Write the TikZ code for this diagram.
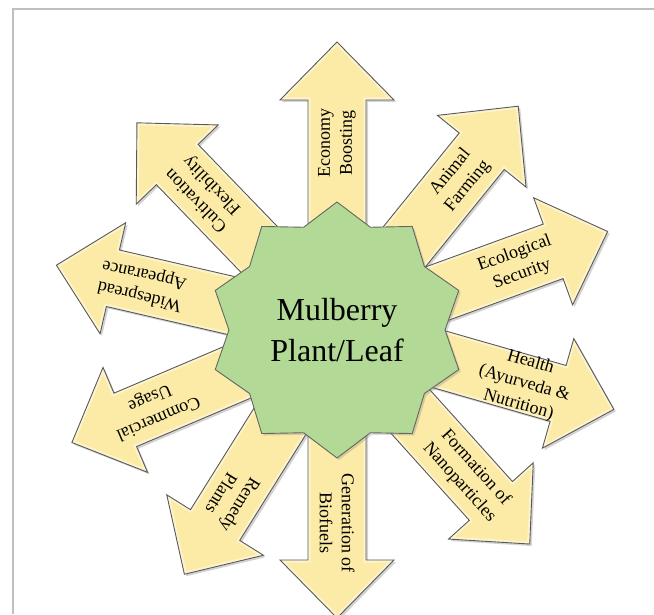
\documentclass[tikz,border=0pt]{standalone}
\usepackage{fontspec}
\setmainfont{Liberation Serif}
\usetikzlibrary{shapes.geometric,shadows}

\definecolor{arrowfill}{RGB}{252,235,166}
\definecolor{starfill}{RGB}{178,218,150}

% one arrow, pointing along +x, starting at the centre
\def\arrowpath{(0,-29) -- (230,-29) -- (230,-57) -- (288,0) -- (230,57) -- (230,29) -- (0,29) -- cycle}

\begin{document}
\begin{tikzpicture}[
    x=1pt, y=1pt,
    arrowedge/.style = {draw=black!65, line width=0.9},
    bevel/.style = {draw=white, line width=5, opacity=0.45},
    hub/.style = {star, star points=10, star point ratio=1.185,
                  minimum size=256, fill=starfill, draw=black!60,
                  line width=0.9, align=center,
                  font=\fontsize{32}{41}\selectfont,
                  drop shadow={shadow xshift=2, shadow yshift=-2, opacity=0.3}},
    benefit/.style = {align=center, inner sep=1,
                      font=\fontsize{18}{22}\selectfont}
]
  \useasboundingbox (0,0) rectangle (654,614);
  \draw[black!25, line width=1.2] (13,0) |- (654,605);

  \coordinate (c) at (337,284);

  % the ten arrows behind the star
  \foreach \ang in {90,51,20,-16,-48,-90,-122,-157,167,134} {
    \begin{scope}[shift={(c)}, rotate=\ang]
      \fill[arrowfill, drop shadow={shadow xshift=2, shadow yshift=-2, opacity=0.35}] \arrowpath;
      \begin{scope}
        \clip \arrowpath;
        \draw[bevel] \arrowpath;
      \end{scope}
      \draw[arrowedge] \arrowpath;
    \end{scope}
  }

  \node (mulberry) [hub] at (c) {Mulberry\\Plant/Leaf};

  % labels on the arrows
  \foreach \nm/\ang/\dist/\txt in {
      econ/90/187/{Economy\\Boosting},
      animal/51/194/{Animal\\Farming},
      eco/20/193/{Ecological\\Security},
      health/-16/195/{Health\\(Ayurveda \&\\Nutrition)},
      nano/-48/195/{Formation of\\Nanoparticles},
      biofuel/-90/193/{Generation of\\Biofuels},
      remedy/-122/200/{Remedy\\Plants},
      commerce/-157/199/{Commercial\\Usage},
      spread/167/200/{Widespread\\Appearance},
      cultiv/134/191/{Cultivation\\Flexibility}} {
    \node (\nm) [benefit, rotate=\ang] at ([shift={(\ang:\dist)}]c) {\txt};
  }

\end{tikzpicture}
\end{document}
